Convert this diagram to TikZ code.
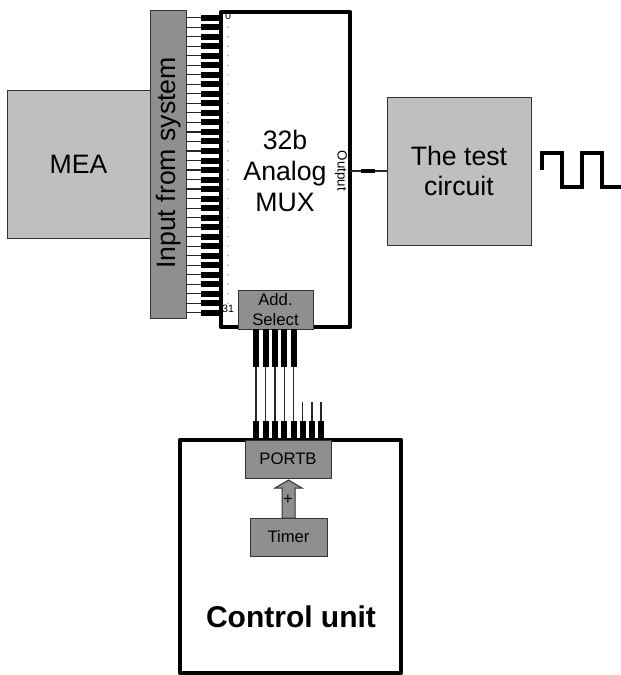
\documentclass[tikz,border=0pt]{standalone}
\usepackage{fontspec}
\setmainfont{Liberation Sans}
\definecolor{boxdark}{gray}{0.56}
\definecolor{boxlight}{gray}{0.75}
\tikzset{
  boxsize/.style 2 args={minimum width=#1*0.75pt, minimum height=#2*0.75pt, inner sep=0pt, outer sep=0pt},
  lightbox/.style={draw=black!80, line width=0.75pt, fill=boxlight},
  darkbox/.style={draw=black!80, line width=0.75pt, fill=boxdark},
  heavybox/.style={draw=black, line width=3.4pt, fill=white, line join=round},
  pinwire/.style={line width=0.85pt, black!85},
  pinbar/.style={line width=4.5pt, black},
  bigtext/.style={align=center, font=\fontsize{20}{23}\selectfont},
  smalltext/.style={align=center, font=\fontsize{12.5}{14.5}\selectfont},
}
\begin{document}
\begin{tikzpicture}[x=0.75pt,y=-0.75pt]
\useasboundingbox (0,0) rectangle (621,675);

% left side
\node (mea) [lightbox, boxsize={143}{148}, bigtext] at (78.5,164) {MEA};
\node (input) [darkbox, boxsize={36}{308}] at (168,164) {};
\node (inputtext) [bigtext, rotate=90] at (169,163) {Input from system};

% the 32 input pins
\foreach \i in {0,...,31} {
  \pgfmathsetmacro{\rowy}{17.7+9.52*\i}
  \coordinate (in\i) at (186,\rowy);
  \coordinate (pin\i) at (201,\rowy);
  \coordinate (mx\i) at (221,\rowy);
  \draw [pinwire] (in\i) -- (pin\i);
  \draw [pinbar] (pin\i) -- (mx\i);
}

% mux
\node (mux) [heavybox, boxsize={129}{315}] at (285.5,169.5) {};
\foreach \i in {1,...,30} {
  \pgfmathsetmacro{\rowy}{17.7+9.52*\i}
  \fill [gray!70] (228,\rowy) circle (0.8);
}
\node (muxtext) [bigtext] at (285,171) {32b\\Analog\\MUX};
\node (first) [font=\fontsize{8}{9}\selectfont] at (228,16) {0};
\node (last) [font=\fontsize{8}{9}\selectfont] at (228,309) {31};
\node (outputtext) [font=\fontsize{10}{12}\selectfont, rotate=-90] at (341,171) {Output};
\node (select) [darkbox, boxsize={75}{39}, smalltext] at (275.5,309.5) {Add.\\Select};

% test circuit and its output
\node (test) [lightbox, boxsize={144}{148}, bigtext] at (459,171) {The test\\circuit};
\coordinate (outa) at (361,171);
\coordinate (outb) at (375,171);
\draw [pinwire] (mux.east |- test.west) -- (test.west);
\draw [line width=3.6pt] (outa) -- (outb);
\draw [line width=2.3pt, line join=miter] (542,170) -- (542,153) -- (562,153) -- (562,187) -- (582,187) -- (582,153) -- (602,153) -- (602,187) -- (621,187);

% control unit
\node (control) [heavybox, boxsize={221}{233}] at (290.5,556.5) {};
\node (controltext) [font=\fontsize{22.5}{26}\selectfont\bfseries] at (291,617) {Control unit};
\node (portb) [darkbox, boxsize={86}{38}, smalltext] at (288,459) {PORTB};
\node (timer) [darkbox, boxsize={77}{38}, smalltext] at (288.5,537) {Timer};
\draw [darkbox] (282,518) -- (282,488) -- (275,488) -- (288.5,480) -- (302,488) -- (295,488) -- (295,518) -- cycle;
\node (plus) [smalltext] at (288,500) {+};

% address lines
\foreach \i/\px in {0/256,1/265.5,2/275,3/284.2,4/293.6} {
  \coordinate (sa\i) at (\px,329);
  \coordinate (sb\i) at (\px,367);
  \coordinate (pa\i) at (\px,421);
  \coordinate (pb\i) at (\px,440);
  \draw [pinbar] (sa\i) -- (sb\i);
  \draw [pinwire] (sb\i) -- (pa\i);
  \draw [pinbar] (pa\i) -- (pb\i);
}
\foreach \i/\px in {5/302.5,6/312,7/321} {
  \coordinate (pt\i) at (\px,402);
  \coordinate (pa\i) at (\px,421);
  \coordinate (pb\i) at (\px,440);
  \draw [pinwire] (pt\i) -- (pa\i);
  \draw [pinbar] (pa\i) -- (pb\i);
}
\end{tikzpicture}
\end{document}
